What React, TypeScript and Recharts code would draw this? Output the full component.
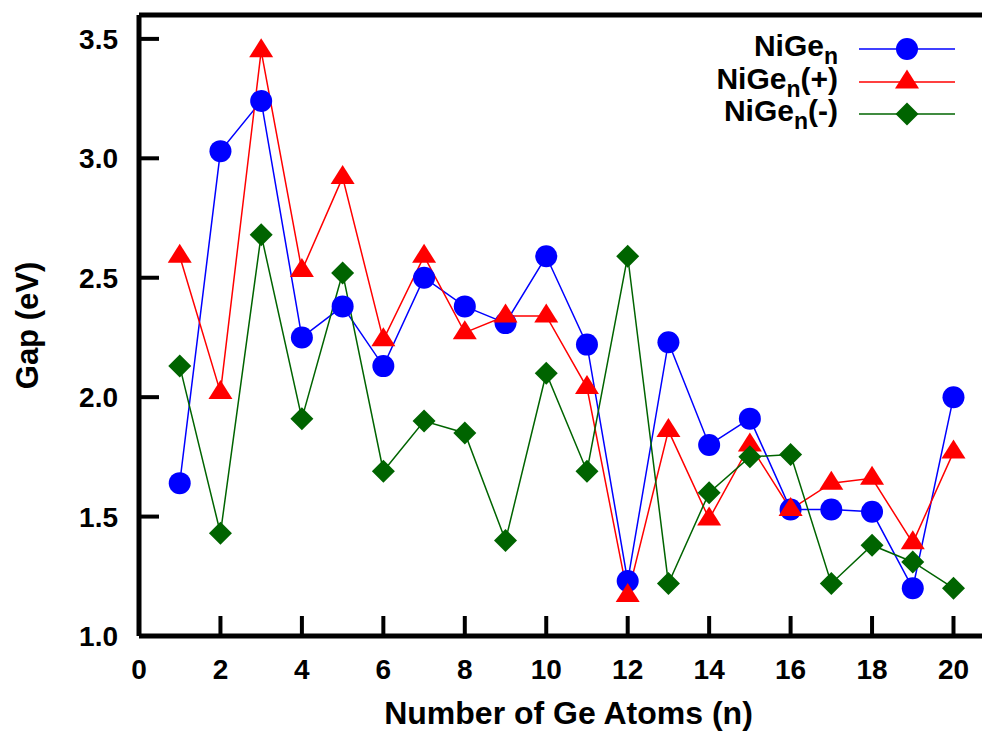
import React from "react";
import { LineChart, Line, XAxis, YAxis, ReferenceLine } from "recharts";

// number of Ge atoms
const atoms = [1, 2, 3, 4, 5, 6, 7, 8, 9, 10, 11, 12, 13, 14, 15, 16, 17, 18, 19, 20];

// HOMO-LUMO gaps (eV)
const gapNeutral = [1.64, 3.03, 3.24, 2.25, 2.38, 2.13, 2.5, 2.38, 2.31, 2.59, 2.22, 1.23, 2.23, 1.8, 1.91, 1.53, 1.53, 1.52, 1.2, 2.0];
const gapCation = [2.59, 2.02, 3.45, 2.53, 2.92, 2.24, 2.59, 2.27, 2.34, 2.34, 2.04, 1.17, 1.86, 1.49, 1.8, 1.53, 1.64, 1.66, 1.39, 1.77];
const gapAnion = [2.13, 1.43, 2.68, 1.91, 2.52, 1.69, 1.9, 1.85, 1.4, 2.1, 1.69, 2.59, 1.22, 1.6, 1.75, 1.76, 1.22, 1.38, 1.31, 1.2];

const xTicks = [0, 2, 4, 6, 8, 10, 12, 14, 16, 18, 20];
const yTicks = [1.0, 1.5, 2.0, 2.5, 3.0, 3.5];

const data = atoms.map((n, i) => ({
  n,
  neutral: gapNeutral[i],
  cation: gapCation[i],
  anion: gapAnion[i],
}));

const FONT = "'Liberation Sans', Arial, Helvetica, sans-serif";
const BLUE = "#0000ff";
const RED = "#ff0000";
const GREEN = "#006400";

const triPath = (cx: number, cy: number) =>
  `M${cx},${cy - 12.5} L${cx + 12},${cy + 6.5} L${cx - 12},${cy + 6.5} Z`;
const diaPath = (cx: number, cy: number) =>
  `M${cx},${cy - 11.5} L${cx + 11.5},${cy} L${cx},${cy + 11.5} L${cx - 11.5},${cy} Z`;

const TriangleDot = (props: any) => {
  const { cx, cy, index } = props;
  if (cx == null || cy == null) return null;
  return <path key={`t-${index}`} d={triPath(cx, cy)} fill={RED} />;
};

const DiamondDot = (props: any) => {
  const { cx, cy, index } = props;
  if (cx == null || cy == null) return null;
  return <path key={`d-${index}`} d={diaPath(cx, cy)} fill={GREEN} />;
};

// ticks point inward, labels sit outside
const XTick = (props: any) => {
  const { x, y, payload } = props;
  return (
    <g>
      <line x1={x} y1={y} x2={x} y2={y - 20} stroke="#000" strokeWidth={4} />
      <text x={x} y={y + 43} textAnchor="middle" fontFamily={FONT} fontWeight="bold" fontSize={28} fill="#000">
        {payload.value}
      </text>
    </g>
  );
};

const YTick = (props: any) => {
  const { x, y, payload } = props;
  return (
    <g>
      <line x1={x} y1={y} x2={x + 20} y2={y} stroke="#000" strokeWidth={4} />
      <text x={x - 21} y={y + 10} textAnchor="end" fontFamily={FONT} fontWeight="bold" fontSize={28} fill="#000">
        {Number(payload.value).toFixed(1)}
      </text>
    </g>
  );
};

const legendRows = [
  { suffix: "", color: BLUE, shape: "circle" },
  { suffix: "(+)", color: RED, shape: "triangle" },
  { suffix: "(-)", color: GREEN, shape: "diamond" },
];

function ChartLegend() {
  const rowY = [49, 82, 114];
  return (
    <svg width={982} height={140} style={{ position: "absolute", left: 0, top: 0, pointerEvents: "none" }}>
      {legendRows.map((r, i) => {
        const y = rowY[i];
        return (
          <g key={i}>
            <text x={838} y={y + 7} textAnchor="end" fontFamily={FONT} fontWeight="bold" fontSize={30} fill="#000">
              <tspan>NiGe</tspan>
              <tspan dy={8} fontSize={23}>n</tspan>
              {r.suffix && <tspan dy={-8}>{r.suffix}</tspan>}
            </text>
            <line x1={859} y1={y} x2={955} y2={y} stroke={r.color} strokeWidth={1.5} />
            {r.shape === "circle" && <circle cx={907} cy={y} r={11} fill={r.color} />}
            {r.shape === "triangle" && <path d={triPath(907, y)} fill={r.color} />}
            {r.shape === "diamond" && <path d={diaPath(907, y)} fill={r.color} />}
          </g>
        );
      })}
    </svg>
  );
}

export default function App() {
  return (
    <div style={{ position: "absolute", left: 0, top: 0, width: 982, height: 732, background: "#fff", overflow: "hidden" }}>
      <LineChart width={982} height={732} data={data} margin={{ top: 15, right: 0, bottom: 0, left: 0 }}>
        <XAxis
          dataKey="n"
          type="number"
          domain={[0, 20.7]}
          ticks={xTicks}
          allowDataOverflow
          height={96}
          tickSize={0}
          tickMargin={0}
          tickLine={false}
          tick={<XTick />}
          axisLine={{ stroke: "#000", strokeWidth: 5 }}
          label={{ value: "Number of Ge Atoms (n)", position: "insideBottom", offset: 8, fontFamily: FONT, fontWeight: "bold", fontSize: 32, fill: "#000", dx: 8 }}
        />
        <YAxis
          type="number"
          domain={[1, 3.6]}
          ticks={yTicks}
          allowDataOverflow
          width={139}
          tickSize={0}
          tickMargin={0}
          tickLine={false}
          tick={<YTick />}
          axisLine={{ stroke: "#000", strokeWidth: 5 }}
          label={{ value: "Gap (eV)", angle: -90, position: "center", dx: -43, fontFamily: FONT, fontWeight: "bold", fontSize: 31, fill: "#000" }}
        />
        <ReferenceLine y={3.6} stroke="#000" strokeWidth={5} />
        <Line
          dataKey="neutral"
          name="NiGen"
          stroke={BLUE}
          strokeWidth={1.5}
          dot={{ r: 11, fill: BLUE, stroke: "none" }}
          activeDot={false}
          isAnimationActive={false}
        />
        <Line
          dataKey="cation"
          name="NiGen(+)"
          stroke={RED}
          strokeWidth={1.5}
          dot={<TriangleDot />}
          activeDot={false}
          isAnimationActive={false}
        />
        <Line
          dataKey="anion"
          name="NiGen(-)"
          stroke={GREEN}
          strokeWidth={1.5}
          dot={<DiamondDot />}
          activeDot={false}
          isAnimationActive={false}
        />
      </LineChart>
      <ChartLegend />
    </div>
  );
}
